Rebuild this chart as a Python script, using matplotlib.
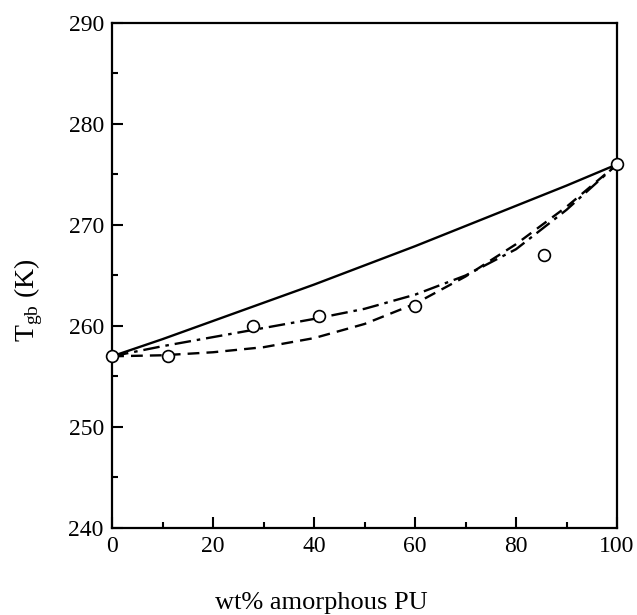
import numpy as np
import matplotlib.pyplot as plt
from matplotlib.ticker import MultipleLocator

plt.rcParams["font.family"] = ["Liberation Serif", "DejaVu Serif"]
plt.rcParams["mathtext.fontset"] = "custom"
plt.rcParams["mathtext.rm"] = "Liberation Serif"

# measured points
wt_exp = [0, 11, 28, 41, 60, 85.5, 100]
tg_exp = [257, 257, 260, 261, 262, 267, 276]

# model curves
wt_fit = [0, 10, 20, 30, 40, 50, 60, 70, 80, 90, 100]
tg_solid = [257, 258.7, 260.5, 262.3, 264.1, 266.0, 267.9, 269.9, 271.9, 273.9, 276]
tg_dashdot = [257, 258.0, 258.9, 259.8, 260.7, 261.7, 263.1, 265.0, 267.6, 271.5, 276]
tg_dash = [257, 257.1, 257.4, 257.9, 258.8, 260.2, 262.2, 264.9, 268.1, 271.8, 276]

fig = plt.figure(figsize=(6.37, 6.15), dpi=100)
ax = fig.add_axes([0.176, 0.1415, 0.7926, 0.8211])

ax.plot(wt_fit, tg_solid, "k-", lw=1.7)
ax.plot(wt_fit, tg_dashdot, "k", lw=1.7, dashes=(7, 2.5, 1.5, 2.5))
ax.plot(wt_fit, tg_dash, "k", lw=1.7, dashes=(5, 3))
ax.plot(wt_exp, tg_exp, "o", mfc="white", mec="black", ms=8.5, mew=1.2,
        clip_on=False, zorder=5)

ax.set_xlim(0, 100)
ax.set_ylim(240, 290)
ax.xaxis.set_major_locator(MultipleLocator(20))
ax.xaxis.set_minor_locator(MultipleLocator(10))
ax.yaxis.set_major_locator(MultipleLocator(10))
ax.yaxis.set_minor_locator(MultipleLocator(5))
ax.tick_params(which="both", direction="in", width=1.5, labelsize=17,
               top=False, right=False, pad=6)
ax.tick_params(which="major", length=8)
ax.tick_params(which="minor", length=4.5)
for s in ax.spines.values():
    s.set_linewidth(1.6)

# axis titles placed in figure coords
fig.text(321 / 637, 1 - 603 / 615, "wt% amorphous PU", fontsize=19,
         ha="center", va="center")
fig.text(29 / 637, 1 - 300 / 615, r"T$_{\rm gb}$ (K)", fontsize=20,
         rotation=90, ha="center", va="center")

fig.savefig("out.png", dpi=100)
